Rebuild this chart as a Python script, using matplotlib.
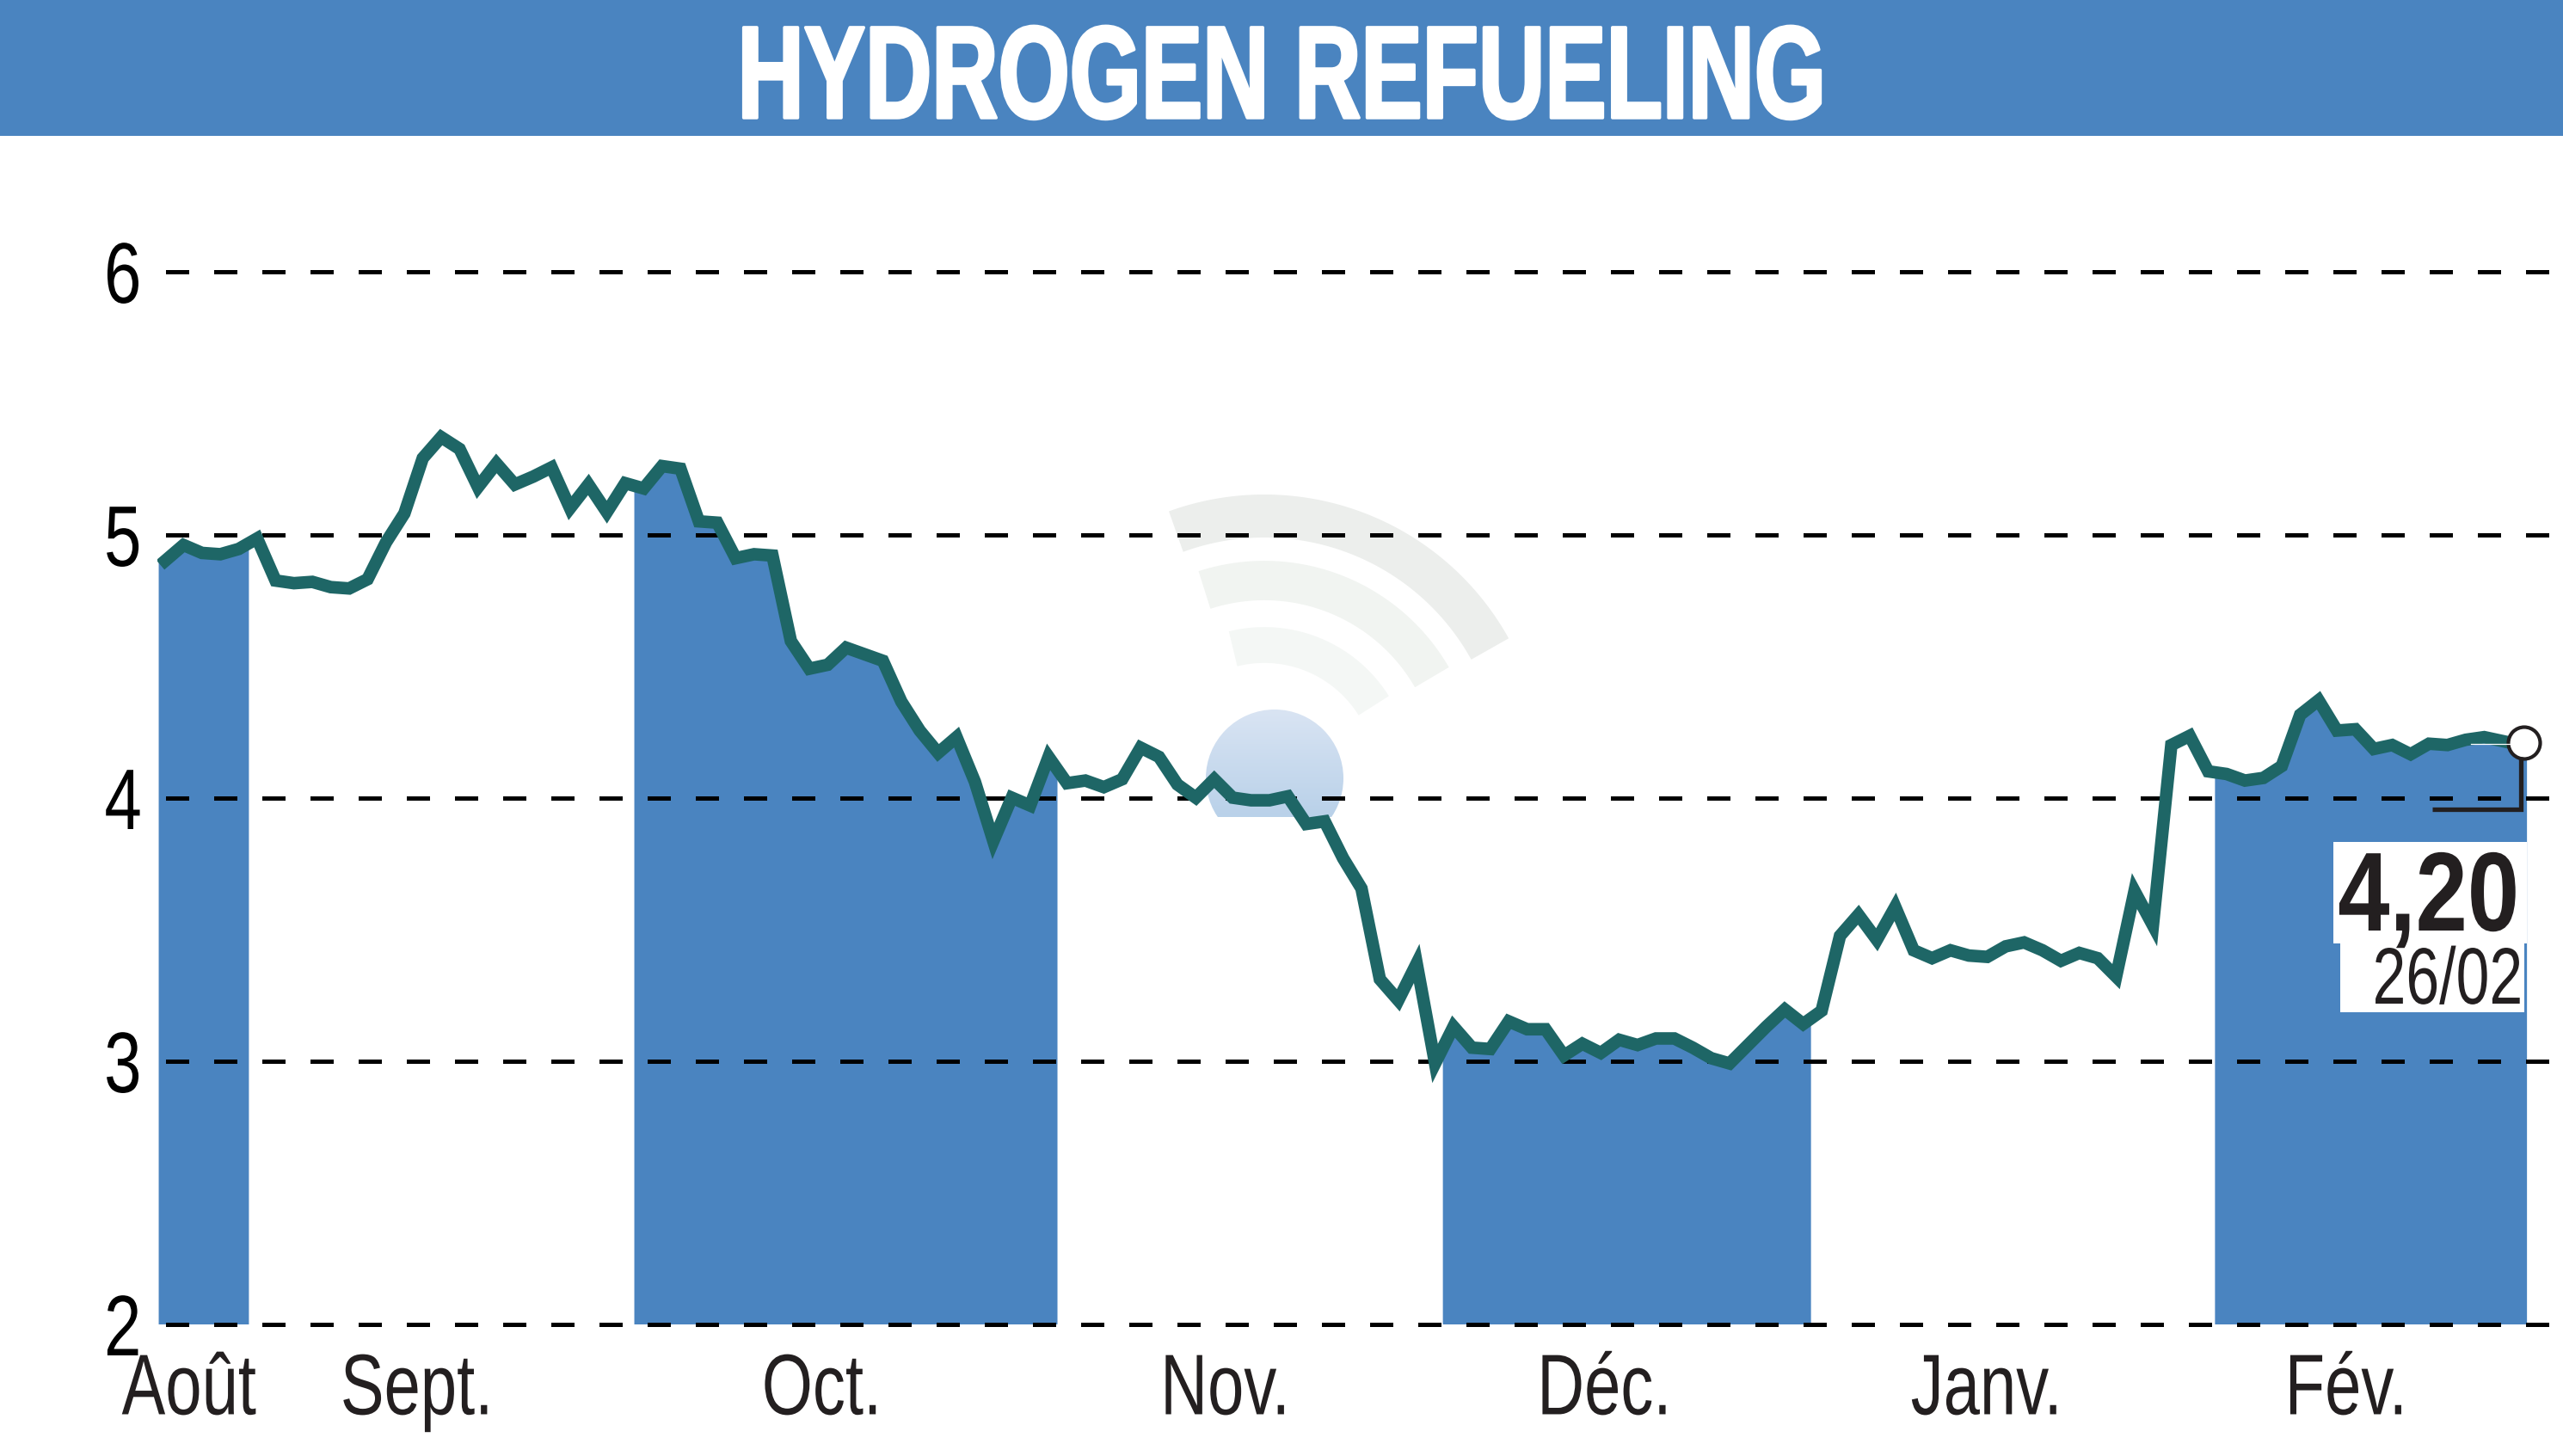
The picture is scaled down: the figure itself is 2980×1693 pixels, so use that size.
import numpy as np
import matplotlib
matplotlib.use('Agg')
import matplotlib.pyplot as plt
from matplotlib.patches import Circle, Rectangle
from matplotlib.colors import LinearSegmentedColormap
from matplotlib.patheffects import AbstractPathEffect
from matplotlib.transforms import Affine2D

# chart data
title = 'HYDROGEN REFUELING'
prices = [4.90, 4.96, 4.93, 4.925, 4.945, 4.985, 4.825, 4.815, 4.82, 4.80,
          4.795, 4.83, 4.97, 5.08, 5.29, 5.37, 5.325, 5.18, 5.27, 5.19,
          5.22, 5.255, 5.10, 5.19, 5.085, 5.195, 5.175, 5.26, 5.25, 5.05,
          5.045, 4.91, 4.925, 4.92, 4.595, 4.49, 4.505, 4.57, 4.545, 4.52,
          4.365, 4.255, 4.17, 4.23, 4.06, 3.835, 4.00, 3.97, 4.155, 4.055,
          4.065, 4.04, 4.07, 4.19, 4.155, 4.05, 4.00, 4.07, 4.00, 3.99,
          3.99, 4.005, 3.90, 3.91, 3.77, 3.655, 3.31, 3.23, 3.37, 2.99,
          3.13, 3.05, 3.045, 3.15, 3.12, 3.12, 3.02, 3.065, 3.03, 3.08,
          3.06, 3.085, 3.085, 3.05, 3.01, 2.99, 3.06, 3.13, 3.195, 3.14,
          3.19, 3.475, 3.555, 3.46, 3.585, 3.42, 3.39, 3.42, 3.40, 3.395,
          3.435, 3.45, 3.42, 3.38, 3.41, 3.39, 3.32, 3.645, 3.515, 4.20,
          4.235, 4.10, 4.09, 4.065, 4.075, 4.12, 4.315, 4.37, 4.255, 4.26,
          4.185, 4.20, 4.165, 4.205, 4.20, 4.22, 4.23, 4.215, 4.20]
month_edges = [-0.37, 4.53, 25.47, 48.46, 69.4, 89.4, 111.35, 128.3]
month_labels = ['Août', 'Sept.', 'Oct.', 'Nov.', 'Déc.', 'Janv.', 'Fév.']
month_ticks = [1.3, 13.7, 35.7, 57.6, 78.2, 99, 118.5]
price_ticks = [2, 3, 4, 5, 6]
last_price = '4,20'
last_date = '26/02'

BLUE = '#4A84C0'
GREEN = '#1E6666'
INK = '#231F20'


# no condensed font installed, so squeeze the real text sideways when drawn
class Squeeze(AbstractPathEffect):
    def __init__(self, sx, anchor='center', stroke=0):
        super().__init__()
        self.sx = sx
        self.anchor = anchor
        self.stroke = stroke

    def draw_path(self, renderer, gc, tpath, affine, rgbFace=None):
        box = tpath.transformed(affine).get_extents()
        x0 = box.x1 if self.anchor == 'right' else (box.x0 + box.x1) / 2
        squeezed = affine + Affine2D().translate(-x0, 0).scale(self.sx, 1).translate(x0, 0)
        if self.stroke:
            gc0 = renderer.new_gc()
            gc0.copy_properties(gc)
            gc0.set_foreground(rgbFace)
            gc0.set_linewidth(self.stroke)
            renderer.draw_path(gc0, tpath, squeezed, rgbFace)
            gc0.restore()
        else:
            renderer.draw_path(gc, tpath, squeezed, rgbFace)


plt.rcParams['font.family'] = ['Liberation Sans', 'DejaVu Sans']

W, H = 2980, 1693
fig = plt.figure(figsize=(W / 100, H / 100), dpi=100, facecolor='white')

# background layer in pixels, y going down: banner and the faint logo
bg = fig.add_axes([0, 0, 1, 1], zorder=0)
bg.set_xlim(0, W)
bg.set_ylim(H, 0)
bg.axis('off')
bg.add_patch(Rectangle((0, 0), W, 158, color=BLUE, lw=0))

for r, a0, a1, width, col in [(300, 29, 110, 36, '#ECEEEC'),
                              (225, 30, 108, 33, '#F1F4F1'),
                              (150, 32, 104, 30, '#F4F7F5')]:
    t = np.radians(np.linspace(a0, a1, 80))
    bg.plot(1470 + r * np.cos(t), 900 - r * np.sin(t), color=col, lw=width,
            solid_capstyle='butt')

ball = Circle((1482, 905), 80, transform=bg.transData, fc='none', ec='none')
bg.add_patch(ball)
cmap = LinearSegmentedColormap.from_list('ball', ['#D9E4F3', '#B9D1E9'])
img = bg.imshow(np.linspace(0, 1, 50).reshape(-1, 1), cmap=cmap, aspect='auto',
                extent=(1400, 1565, 950, 825))
img.set_clip_path(ball)
bg.set_xlim(0, W)
bg.set_ylim(H, 0)

# main axes, from the y=2 line up to below the banner
left, bottom, top = 183.4, 1539.5, 162.5
ax = fig.add_axes([left / W, (H - bottom) / H, (W - left) / W, (bottom - top) / H], zorder=1)
ax.patch.set_alpha(0)
ax.set_xlim(-0.4, (W - 192) / 21.4)
ax.set_ylim(2, 6.5)
for s in ax.spines.values():
    s.set_visible(False)

days = np.arange(len(prices))

# every other month is filled
for lo, hi in zip(month_edges[0::2], month_edges[1::2]):
    inside = days[(days > lo) & (days < hi)]
    bx = np.r_[lo, inside, hi]
    ax.fill_between(bx, 2, np.interp(bx, days, prices), color=BLUE, lw=0, zorder=1)

ax.set_yticks(price_ticks)
ax.set_xticks(month_ticks)
ax.set_xticklabels(month_labels, fontsize=72, color=INK)
ax.tick_params(axis='y', length=0, labelsize=72, pad=13, labelcolor='black')
ax.tick_params(axis='x', length=0, pad=23)
for lab in ax.get_yticklabels():
    lab.set_va('center_baseline')
    lab.set_path_effects([Squeeze(0.78, 'right')])
for lab in ax.get_xticklabels():
    lab.set_path_effects([Squeeze(0.76)])

for p in price_ticks:
    ax.axhline(p, color='black', lw=3.6, linestyle=(9.3, (5.4, 5.8)),
               dash_capstyle='butt', zorder=2, clip_on=False)

ax.plot(days, prices, color=GREEN, lw=10.5, solid_joinstyle='miter', zorder=3)

# last value call-out, drawn in pixels on top
top_ax = fig.add_axes([0, 0, 1, 1], zorder=2)
top_ax.set_xlim(0, W)
top_ax.set_ylim(H, 0)
top_ax.axis('off')
top_ax.plot([2873, 2919], [865, 865], color='white', lw=0.9)
top_ax.plot([2931, 2931, 2828], [880, 941, 941], color=INK, lw=3.8,
            solid_joinstyle='miter', solid_capstyle='butt')
top_ax.add_patch(Circle((2935, 864), 18.5, fc='white', ec=INK, lw=3))
top_ax.add_patch(Rectangle((2713, 979), 225, 118, color='white', lw=0))
top_ax.add_patch(Rectangle((2721, 1097), 214, 80, color='white', lw=0))
top_ax.text(2824, 1082, last_price, fontsize=94, fontweight='bold', color=INK,
            ha='center', va='baseline', path_effects=[Squeeze(0.83)])
top_ax.text(2934, 1167, last_date, fontsize=67, color=INK, ha='right', va='baseline',
            path_effects=[Squeeze(0.75, 'right')])

fig.text(1490 / W, 1 - 137 / H, title, fontsize=110, fontweight='bold', color='white',
         ha='center', va='baseline', zorder=5, path_effects=[Squeeze(0.70, stroke=2.5)])

fig.savefig('out.png', dpi=100)
